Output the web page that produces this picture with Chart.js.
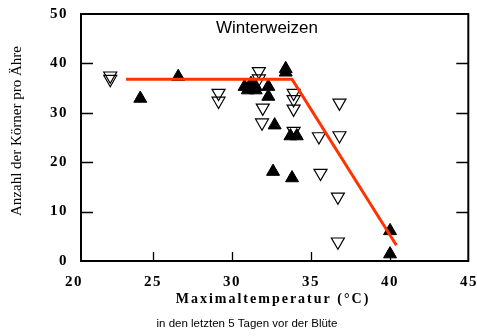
<!DOCTYPE html>
<html>
<head>
<meta charset="utf-8">
<script src="https://cdn.jsdelivr.net/npm/chart.js@4/dist/chart.umd.min.js"></script>
<style>
  html, body { margin: 0; padding: 0; background: #fff; }
  #wrap { width: 477px; height: 336px; }
</style>
</head>
<body>
<div id="wrap"><canvas id="c" width="477" height="336"></canvas></div>
<script>
// Axis tick labels
const xTickValues = [20, 25, 30, 35, 40, 45];
const yTickValues = [0, 10, 20, 30, 40, 50];

// Open markers (downward triangles)
const openTemps  = [22.3, 22.3, 29.15, 29.15, 31.7, 31.7, 31.95, 31.9, 33.9, 33.9, 33.9, 33.9, 35.5, 36.8, 36.8, 35.6, 36.7, 36.7];
const openGrains = [37.5, 36.8, 34.0, 32.4, 38.4, 36.9, 31.0, 28.0, 34.0, 32.7, 30.8, 26.3, 25.2, 25.4, 32.0, 17.8, 13.0, 3.9];

// Filled markers (upward triangles)
const filledTemps  = [24.2, 26.6, 30.8, 31.0, 31.2, 31.5, 31.5, 32.3, 32.3, 33.4, 33.4, 32.7, 33.7, 34.1, 32.6, 33.8, 40.0, 40.0];
const filledGrains = [32.9, 37.3, 35.3, 34.6, 35.9, 35.3, 34.6, 35.3, 33.3, 38.9, 38.2, 27.5, 25.3, 25.3, 18.1, 16.8, 6.1, 1.4];

// Broken-stick fit: plateau, then decline
const fitTemps  = [23.3, 33.8, 40.4];
const fitGrains = [36.8, 36.8, 3.2];

const toPoints = (xs, ys) => xs.map((x, i) => ({ x: x, y: ys[i] }));

const serif = '"Liberation Serif", "Times New Roman", serif';
const sans = '"Liberation Sans", Arial, sans-serif';

// Frame, inward tick marks and free-standing texts
const frameAndTexts = {
  id: 'frameAndTexts',
  beforeDraw(chart) {
    chart.ctx.letterSpacing = '1.5px';
  },
  beforeDatasetsDraw(chart) {
    const { ctx, chartArea: a, scales } = chart;
    ctx.save();
    ctx.strokeStyle = '#000';
    ctx.lineWidth = 2;
    ctx.strokeRect(a.left, a.top, a.right - a.left, a.bottom - a.top);
    ctx.lineWidth = 1.3;
    ctx.beginPath();
    [10, 20, 30, 40].forEach(v => {
      const y = Math.round(scales.y.getPixelForValue(v)) + 0.5;
      ctx.moveTo(a.left, y); ctx.lineTo(a.left + 12, y);
      ctx.moveTo(a.right, y); ctx.lineTo(a.right - 12, y);
    });
    [25, 30, 35, 40].forEach(v => {
      const x = Math.round(scales.x.getPixelForValue(v)) + 0.5;
      ctx.moveTo(x, a.bottom); ctx.lineTo(x, a.bottom - 9);
    });
    ctx.stroke();
    ctx.restore();
  },
  afterDraw(chart) {
    const { ctx } = chart;
    ctx.save();
    ctx.fillStyle = '#000';
    ctx.textAlign = 'center';
    ctx.textBaseline = 'middle';

    ctx.letterSpacing = '0px';
    ctx.font = '17px ' + sans;
    ctx.fillText('Winterweizen', 267, 28);

    ctx.font = '11.5px ' + sans;
    ctx.fillText('in den letzten 5 Tagen vor der Blüte', 247, 324);

    ctx.letterSpacing = '2px';
    ctx.font = 'bold 14px ' + serif;
    ctx.fillText('Maximaltemperatur (°C)', 273, 299);

    ctx.letterSpacing = '0px';
    ctx.translate(17, 131);
    ctx.rotate(-Math.PI / 2);
    ctx.font = '15px ' + serif;
    ctx.fillText('Anzahl der Körner pro Ähre', 0, 0);
    ctx.restore();
  }
};

new Chart(document.getElementById('c'), {
  type: 'scatter',
  data: {
    datasets: [
      {
        type: 'line',
        data: toPoints(fitTemps, fitGrains),
        borderColor: '#ff3300',
        borderWidth: 3,
        pointRadius: 0,
        fill: false,
        clip: false,
        order: 0
      },
      {
        data: toPoints(filledTemps, filledGrains),
        pointStyle: 'triangle',
        pointRadius: 7.5,
        backgroundColor: '#000',
        borderColor: '#000',
        borderWidth: 1,
        clip: false,
        order: 1
      },
      {
        data: toPoints(openTemps, openGrains),
        pointStyle: 'triangle',
        rotation: 180,
        pointRadius: 7.5,
        backgroundColor: 'rgba(255,255,255,0)',
        borderColor: '#000',
        borderWidth: 1.2,
        clip: false,
        order: 2
      }
    ]
  },
  options: {
    responsive: false,
    animation: false,
    events: [],
    layout: { padding: { left: 0, right: 8, top: 14, bottom: 0 } },
    plugins: { legend: { display: false }, tooltip: { enabled: false }, title: { display: false } },
    scales: {
      x: {
        type: 'linear',
        min: 20.45,
        max: 44.95,
        grid: { display: false, drawTicks: false },
        border: { display: false },
        afterBuildTicks(scale) { scale.ticks = xTickValues.map(v => ({ value: v })); },
        afterFit(scale) { scale.height = 75; scale.paddingLeft = 0; scale.paddingRight = 0; },
        ticks: {
          padding: 12,
          color: '#000',
          maxRotation: 0,
          autoSkip: false,
          font: { family: serif, size: 15, weight: 'bold' }
        }
      },
      y: {
        type: 'linear',
        min: 0,
        max: 50,
        grid: { display: false, drawTicks: false },
        border: { display: false },
        afterBuildTicks(scale) { scale.ticks = yTickValues.map(v => ({ value: v })); },
        afterFit(scale) { scale.width = 81; scale.paddingTop = 0; scale.paddingBottom = 0; },
        ticks: {
          padding: 13,
          color: '#000',
          font: { family: serif, size: 15, weight: 'bold' }
        }
      }
    }
  },
  plugins: [frameAndTexts]
});
</script>
</body>
</html>
